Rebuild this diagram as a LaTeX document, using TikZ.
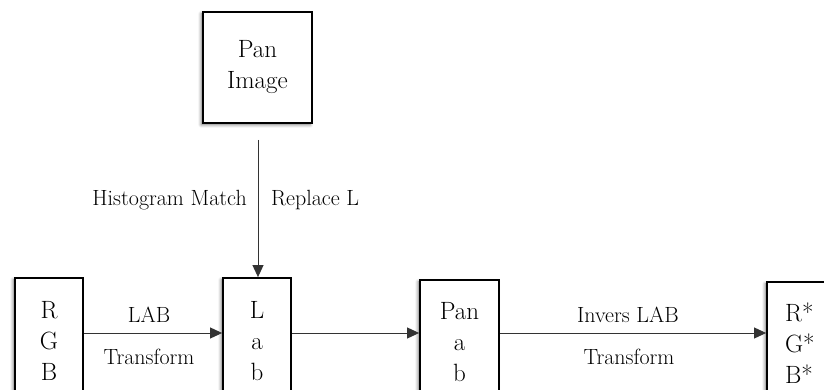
\documentclass[tikz,border=0pt]{standalone}
\usetikzlibrary{arrows.meta,shadows.blur}

\tikzset{
  box/.style={draw=black, line width=1.8pt, fill=white, align=center,
    inner sep=0pt, font=\fontsize{25}{31}\selectfont,
    blur shadow={shadow xshift=-1.8pt, shadow yshift=-1.8pt,
      shadow blur radius=3pt, shadow opacity=55}},
  flow/.style={draw=black!80, line width=0.9pt,
    -{Triangle[length=12pt,width=11pt]}},
  lbl/.style={inner sep=0pt, font=\fontsize{22}{26}\selectfont}
}

\begin{document}
\begin{tikzpicture}[x=1pt,y=-1pt]
  \useasboundingbox (0,0) rectangle (824,390);
  \clip (0,0) rectangle (824,390);

  % top source box
  \node[box, minimum width=109pt, minimum height=111pt] (pan) at (257.5,67.5) {Pan\\Image};

  % bottom row of channel boxes
  \node[box, minimum width=68pt, minimum height=126pt] (rgb) at (49,341) {R\\G\\B};
  \node[box, minimum width=68pt, minimum height=126pt] (lab) at (257,341) {L\\a\\b};
  \node[box, minimum width=79pt, minimum height=124pt] (pab) at (459.5,342) {Pan\\a\\b};
  \node[box, minimum width=80pt, minimum height=122pt, align=left, text width=44pt] (out) at (807,343)
    {R*\\G*\\B*};

  % vertical connector from the pan image into the L channel
  \coordinate (dropstart) at (258,140);
  \draw[flow] (dropstart) -- (dropstart |- lab.north);
  \node[lbl, anchor=east] (hist) at (247,200) {Histogram Match};
  \node[lbl, anchor=west] (repl) at (271,200) {Replace L};

  % horizontal processing chain
  \draw[flow] ([yshift=8pt]rgb.east) -- ([yshift=8pt]rgb.east -| lab.west);
  \draw[flow] ([yshift=8pt]lab.east) -- ([yshift=8pt]lab.east -| pab.west);
  \draw[flow] ([yshift=9pt]pab.east) -- ([yshift=9pt]pab.east -| out.west);

  \node[lbl] (lab1) at (149,315) {LAB};
  \node[lbl] (lab2) at (149,357) {Transform};
  \node[lbl] (inv1) at (628,315) {Invers LAB};
  \node[lbl] (inv2) at (629,357) {Transform};
\end{tikzpicture}
\end{document}
